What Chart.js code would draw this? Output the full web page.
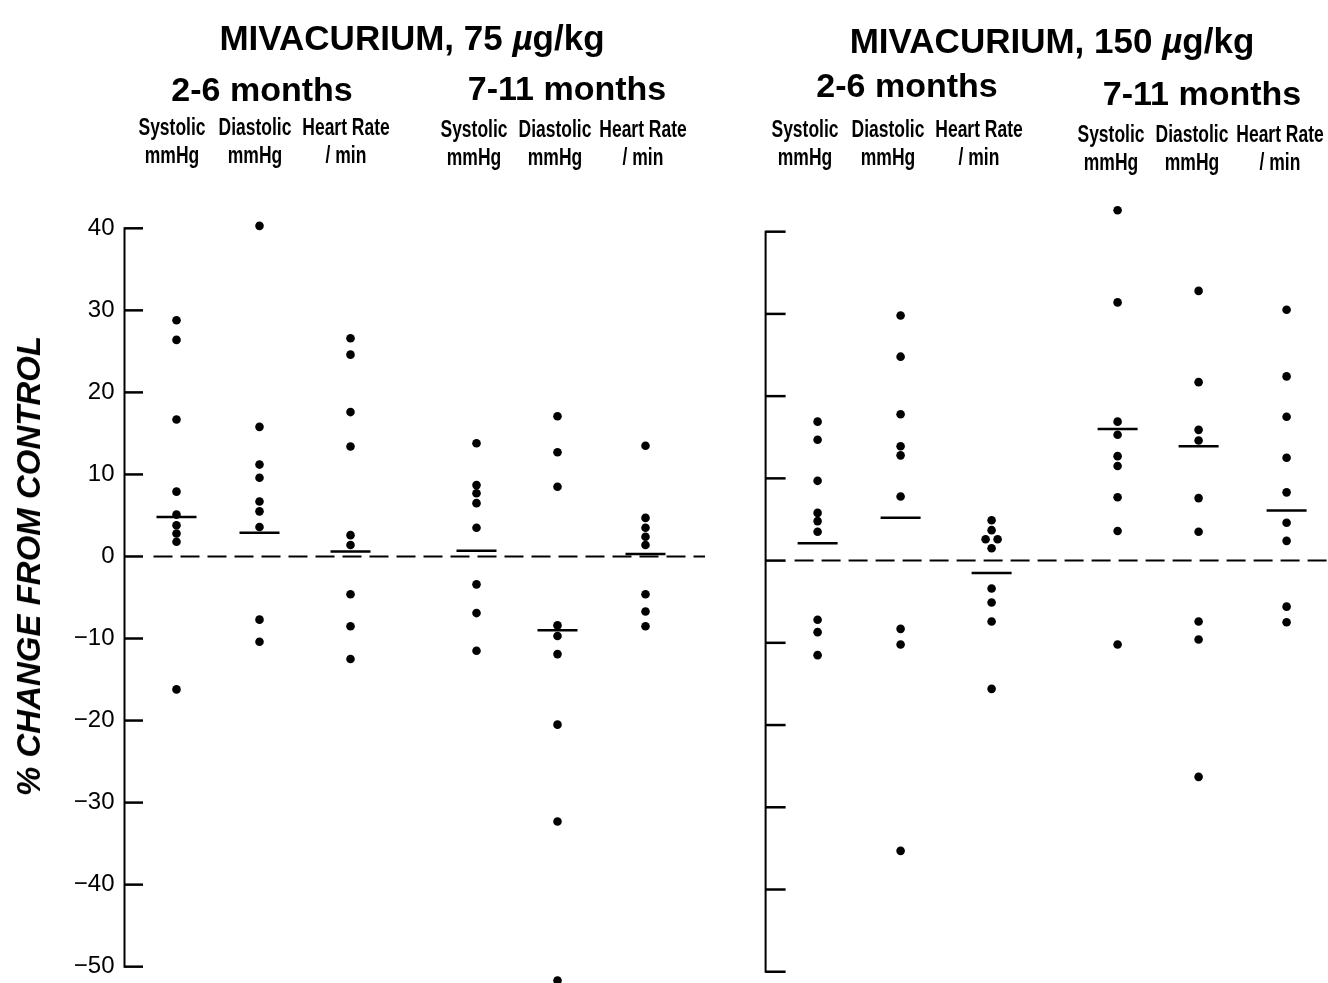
<!DOCTYPE html>
<html>
<head>
<meta charset="utf-8">
<script src="https://cdn.jsdelivr.net/npm/chart.js@4.4.1/dist/chart.umd.min.js"></script>
<style>
  html, body { margin: 0; padding: 0; background: #fff; }
  #wrap { position: relative; width: 1328px; height: 983px; overflow: hidden;
    font-family: "Liberation Sans", Arial, sans-serif; color: #000; }
  canvas { position: absolute; top: 0; }
  .lbl { position: absolute; white-space: nowrap; transform: translateX(-50%);
    font-weight: bold; line-height: 1; }
  .dose { font-size: 35px; }
  .age { font-size: 34px; }
  .col { position: absolute; white-space: nowrap; text-align: center; font-weight: bold;
    font-size: 23px; line-height: 28px; transform: translateX(-50%) scaleX(0.76); }
  #ytitle { position: absolute; left: 29px; top: 566px; white-space: nowrap;
    transform: translate(-50%, -50%) rotate(-90deg);
    font: italic bold 33px "Liberation Sans", Arial, sans-serif; }
</style>
</head>
<body>
<div id="wrap">
  <canvas id="left" width="705" height="983" style="left:0"></canvas>
  <canvas id="right" width="623" height="983" style="left:705px"></canvas>
  <div id="ytitle">% CHANGE FROM CONTROL</div>
</div>
<script>
"use strict";
const $ = (id) => document.getElementById(id);

// headers
const DOSES = ["75", "150"];
const AGE_GROUPS = ["2-6 months", "7-11 months"];
const MEASURES = [["Systolic", "mmHg"], ["Diastolic", "mmHg"], ["Heart Rate", "/ min"]];
const Y_TICKS = [40, 30, 20, 10, 0, -10, -20, -30, -40, -50];

// % change from control, columns: 2-6 mo sys/dia/hr, then 7-11 mo sys/dia/hr
const DOSE75_PTS = [
  [28.8, 26.4, 16.7, 7.9, 5.1, 3.8, 2.8, 1.8, -16.2],
  [40.3, 15.8, 11.2, 9.6, 6.7, 5.5, 3.6, -7.7, -10.4],
  [26.6, 24.6, 17.6, 13.4, 2.6, 1.4, -4.6, -8.5, -12.5],
  [13.8, 8.7, 7.7, 6.5, 3.5, -3.4, -6.9, -11.5],
  [17.1, 12.7, 8.5, -8.4, -9.7, -11.9, -20.5, -32.3, -51.7],
  [13.5, 4.7, 3.5, 2.4, 1.4, -4.6, -6.7, -8.5],
];
const DOSE75_MEDIAN = [4.8, 2.9, 0.6, 0.7, -9.0, 0.3];

const DOSE150_PTS = [
  [16.9, 14.7, 9.7, 5.8, 4.8, 3.5, -7.2, -8.7, -11.5],
  [29.8, 24.8, 17.8, 13.9, 12.8, 7.8, -8.3, -10.2, -35.3],
  [4.9, 3.7, 2.6, 2.6, 1.5, -3.4, -5.1, -7.4, -15.6],
  [42.6, 31.4, 16.9, 15.3, 12.7, 11.5, 7.7, 3.6, -10.2],
  [32.8, 21.7, 15.9, 14.6, 7.6, 3.5, -7.4, -9.6, -26.3],
  [30.5, 22.4, 17.5, 12.5, 8.3, 4.6, 2.4, -5.6, -7.5],
];
const DOSE150_MEDIAN = [2.1, 5.2, -1.5, 16.0, 13.9, 6.1];

// layout, px. column centres measured from the y axis line
const COL_X = [52, 135, 226, 352, 433, 521];
const TIE_GAP = 12;
const FONT = "'Liberation Sans', Arial, sans-serif";

const PANELS = [
  { id: "left", left: 0, pts: DOSE75_PTS, med: DOSE75_MEDIAN, axisW: 124.5, plotW: 580.5,
    yMin: -51.99, yMax: 41, top: 220.1, tickLen: 18.5, showNums: true,
    title: { x: 412, y: 20.4 }, ages: [{ x: 262, y: 72.2 }, { x: 567, y: 71.2 }],
    cols: [{ shift: 5, y: 113 }, { shift: 3, y: 115 }] },
  { id: "right", left: 705, pts: DOSE150_PTS, med: DOSE150_MEDIAN, axisW: 60.6, plotW: 562.4,
    yMin: -51.37, yMax: 43.5, top: 202.9, tickLen: 20, showNums: false,
    title: { x: 1052, y: 23.4 }, ages: [{ x: 907, y: 68.2 }, { x: 1202, y: 76.2 }],
    cols: [{ shift: 13, y: 115 }, { shift: 7, y: 120 }] },
];

Chart.defaults.animation = false;
Chart.defaults.color = "#000";

// axis line with inward ticks, dashed zero line
const frame = {
  id: "frame",
  beforeDatasetsDraw(chart, args, opts) {
    const { ctx, chartArea: a, scales: { y } } = chart;
    ctx.save();
    ctx.strokeStyle = "#000";
    ctx.lineWidth = 2;
    ctx.beginPath();
    ctx.moveTo(a.left, y.getPixelForValue(Y_TICKS[0]) - 1);
    ctx.lineTo(a.left, y.getPixelForValue(Y_TICKS[Y_TICKS.length - 1]) + 1);
    ctx.stroke();
    ctx.lineWidth = 2.5;
    for (const t of Y_TICKS) {
      const py = y.getPixelForValue(t);
      ctx.beginPath(); ctx.moveTo(a.left, py); ctx.lineTo(a.left + opts.tickLen, py); ctx.stroke();
    }
    const z = y.getPixelForValue(0);
    ctx.lineWidth = 2;
    ctx.setLineDash([19, 8]);
    ctx.beginPath(); ctx.moveTo(a.left + 29, z); ctx.lineTo(a.right, z); ctx.stroke();
    ctx.restore();
  },
};

// side-by-side placement for equal values in one column
function columnPoints(cols) {
  const out = [];
  cols.forEach((vals, c) => {
    vals.forEach((v, i) => {
      const same = vals.filter((w) => w === v).length;
      const k = vals.slice(0, i).filter((w) => w === v).length;
      out.push({ x: COL_X[c] + (k - (same - 1) / 2) * TIE_GAP, y: v });
    });
  });
  return out;
}

function addDiv(cls, x, y, html) {
  const e = document.createElement("div");
  e.className = cls;
  e.style.left = x + "px"; e.style.top = y + "px";
  e.innerHTML = html;
  $("wrap").appendChild(e);
}

function mkPanel(p, d) {
  addDiv("lbl dose", p.title.x, p.title.y, `MIVACURIUM, ${DOSES[d]} <i>\u00b5</i>g/kg`);
  AGE_GROUPS.forEach((g, i) => addDiv("lbl age", p.ages[i].x, p.ages[i].y, g));

  const chart = new Chart($(p.id), {
    type: "scatter",
    data: { datasets: [
      { data: columnPoints(p.pts), pointRadius: 4.3, pointBackgroundColor: "#000",
        pointBorderWidth: 0 },
      { data: p.med.map((v, c) => ({ x: COL_X[c], y: v })), pointStyle: "line",
        pointRadius: 20, pointBorderWidth: 2.5, pointBorderColor: "#000" },
    ] },
    options: {
      responsive: false,
      events: [],
      layout: { autoPadding: false, padding: { top: p.top, left: 0, right: 0, bottom: 0 } },
      plugins: { legend: { display: false }, tooltip: { enabled: false },
        frame: { tickLen: p.tickLen } },
      scales: {
        x: { type: "linear", display: false, min: 0, max: p.plotW },
        y: { type: "linear", position: "left", min: p.yMin, max: p.yMax,
          afterBuildTicks: (s) => { s.ticks = Y_TICKS.map((v) => ({ value: v })); },
          afterFit: (s) => { s.width = p.axisW; s.paddingTop = 0; s.paddingBottom = 0; },
          grid: { display: false, drawTicks: false }, border: { display: false },
          ticks: { display: p.showNums, padding: 10, font: { family: FONT, size: 24 },
            callback: (v) => (v < 0 ? "\u2212" + (-v) : String(v)) } },
      },
    },
    plugins: [frame],
  });

  // column headings above each column, placed from the chart's x scale
  COL_X.forEach((v, c) => {
    const g = p.cols[Math.floor(c / 3)];
    const px = p.left + chart.scales.x.getPixelForValue(v) - g.shift;
    addDiv("col", px, g.y, MEASURES[c % 3].join("<br>"));
  });
}

PANELS.forEach((p, d) => mkPanel(p, d));
</script>
</body>
</html>
